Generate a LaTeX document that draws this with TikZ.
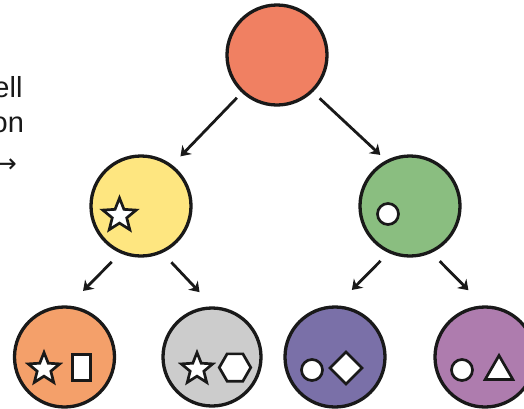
\documentclass[tikz,border=0pt]{standalone}
\usepackage{fontspec}
\setmainfont{Liberation Sans}
\newfontfamily\symfont{DejaVu Sans}
\usetikzlibrary{shapes.geometric,arrows.meta}
\definecolor{cTop}{RGB}{240,128,98}
\definecolor{cYel}{RGB}{254,230,128}
\definecolor{cGrn}{RGB}{138,190,128}
\definecolor{cOra}{RGB}{244,160,106}
\definecolor{cGry}{RGB}{204,204,204}
\definecolor{cPur}{RGB}{122,112,168}
\definecolor{cPnk}{RGB}{174,124,174}
\begin{document}
\begin{tikzpicture}[x=1pt,y=-1pt,
  cell/.style={circle,draw=black!90,line width=3.3pt,minimum size=100pt,inner sep=0pt,outer sep=0pt},
  shp/.style={draw=black!90,fill=white,line width=2.7pt,inner sep=0pt,outer sep=0pt},
  starshp/.style={shp,star,star points=5,star point ratio=2.3},
  dotshp/.style={shp,circle,minimum size=21pt},
  arr/.style={draw=black!90,line width=2.8pt,-{Stealth[length=9.5pt,width=13pt,inset=3pt]}},
  lbl/.style={font=\fontsize{29}{35}\selectfont,inner sep=0pt,outer sep=0pt,text=black!90}]
\clip (0,0) rectangle (524,408);
\fill[white] (0,0) rectangle (524,408);

% left label (cropped, as in the reference)
\node[lbl,anchor=base east] (lcell) at (22.5,97.5) {Cell};
\node[lbl,anchor=base east] (ldiv) at (24,132.5) {division};
\node[lbl,anchor=east,font=\symfont\fontsize{26}{30}\selectfont] (larr) at (17,166) {→};

% circles
\node[cell,fill=cTop] (top) at (277,55) {};
\node[cell,fill=cYel] (yel) at (141,206) {};
\node[cell,fill=cGrn] (grn) at (410,206) {};
\node[cell,fill=cOra] (ora) at (64.5,357) {};
\node[cell,fill=cGry,minimum size=98pt] (gry) at (212,357) {};
\node[cell,fill=cPur] (pur) at (335,357) {};
\node[cell,fill=cPnk] (pnk) at (485,357) {};

% inner shapes
\node[starshp,minimum size=35pt] (s1) at (119.5,215.5) {};
\node[dotshp] (d1) at (388,214) {};
\node[starshp,minimum size=33pt] (s2) at (44,369) {};
\node[shp,rectangle,minimum width=18.5pt,minimum height=26.5pt] (r1) at (81.5,367.5) {};
\node[starshp,minimum size=33pt] (s3) at (197,369) {};
\node[shp,regular polygon,regular polygon sides=6,minimum size=31.5pt] (h1) at (235,367.5) {};
\node[dotshp] (d2) at (312,370) {};
\node[shp,diamond,aspect=1,minimum width=32pt,minimum height=32pt] (q1) at (346,368) {};
\node[dotshp] (d3) at (462,370) {};
\node[shp,regular polygon,regular polygon sides=3,minimum size=32pt] (t1) at (499,371.5) {};

% arrows
\draw[arr,shorten <=8.7pt,shorten >=13.5pt] (top.227.3) -- (yel.53.9);
\draw[arr,shorten <=10.8pt,shorten >=9.6pt] (top.314.7) -- (grn.117.4);
\draw[arr,shorten <=13.9pt,shorten >=22.7pt] (yel.247.4) -- (ora.87);
\draw[arr,shorten <=14.6pt,shorten >=21.9pt] (yel.294.9) -- (gry.87.8);
\draw[arr,shorten <=12.9pt,shorten >=24pt] (grn.246.6) -- (pur.90);
\draw[arr,shorten <=13.25pt,shorten >=23.6pt] (grn.294.6) -- (pnk.90.7);
\end{tikzpicture}
\end{document}
